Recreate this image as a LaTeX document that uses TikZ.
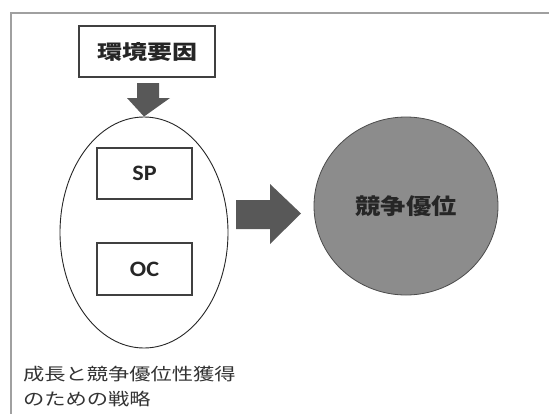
\documentclass[tikz,border=0pt]{standalone}
\usepackage{fontspec}
\usetikzlibrary{shapes.geometric}
\newfontfamily\cjk{Noto Sans CJK JP}
\newfontfamily\lat{Carlito}
\definecolor{framegray}{HTML}{A0A0A0}
\definecolor{arrowgray}{HTML}{585858}
\definecolor{circfill}{HTML}{8C8C8C}
\definecolor{boxline}{HTML}{404040}
\tikzset{
  every picture/.style={x=1pt,y=-1pt},
  blockarrow/.style={fill=arrowgray,draw=none},
  textbox/.style={draw=boxline,line width=1.3pt,fill=white,inner sep=0pt},
  jpbold/.style={font=\cjk\bfseries\fontsize{20}{24}\selectfont,text=black!85},
  latbold/.style={font=\lat\bfseries\fontsize{22}{24}\selectfont,text=black!85},
  caption/.style={font=\cjk\fontsize{17}{28}\selectfont,text=black!80,align=left,anchor=north west,inner sep=0pt}
}
\begin{document}
\begin{tikzpicture}
\useasboundingbox (0,0) rectangle (549,413);
\clip (0,0) rectangle (549,413);
\fill[white] (0,0) rectangle (549,413);
% outer frame (cut at right and bottom)
\draw[framegray,line width=2.2pt] (11,430) -- (11,13) -- (570,13);
% environment box
\node[textbox,minimum width=136pt,minimum height=51pt,jpbold] (env) at (147,51.5) {\scalebox{1.25}[1]{環境要因}};
% ellipse
\node[draw=black!85,line width=0.9pt,ellipse,minimum width=168pt,minimum height=231pt,inner sep=0pt] (strat) at (144,232.5) {};
% SP / OC boxes
\node[textbox,minimum width=95pt,minimum height=51pt,latbold] (sp) at (144.5,173.5) {\scalebox{1.1}[1]{SP}};
\node[textbox,minimum width=95pt,minimum height=52pt,latbold] (oc) at (144.5,269) {\scalebox{1.1}[1]{OC}};
% circle
\node[draw=black!70,line width=0.8pt,fill=circfill,ellipse,minimum width=184pt,minimum height=178pt,inner sep=0pt,font=\cjk\bfseries\fontsize{22}{26}\selectfont,text=black!85] (adv) at (406,206) {\scalebox{1.15}[1]{競争優位}};
% down block arrow
\fill[blockarrow] (137,83) -- (159,83) -- (159,98) -- (170,98) -- (strat.north) -- (127,98) -- (137,98) -- cycle;
% right block arrow
\fill[blockarrow] (236,200) -- (270,200) -- (270,184) -- (301,213.5) -- (270,244) -- (270,229) -- (236,229) -- cycle;
% caption
\node[caption] (cap) at (23,366) {\scalebox{1.25}[1]{成長と競争優位性獲得}\\[-3pt]\scalebox{1.25}[1]{のための戦略}};
\end{tikzpicture}
\end{document}
